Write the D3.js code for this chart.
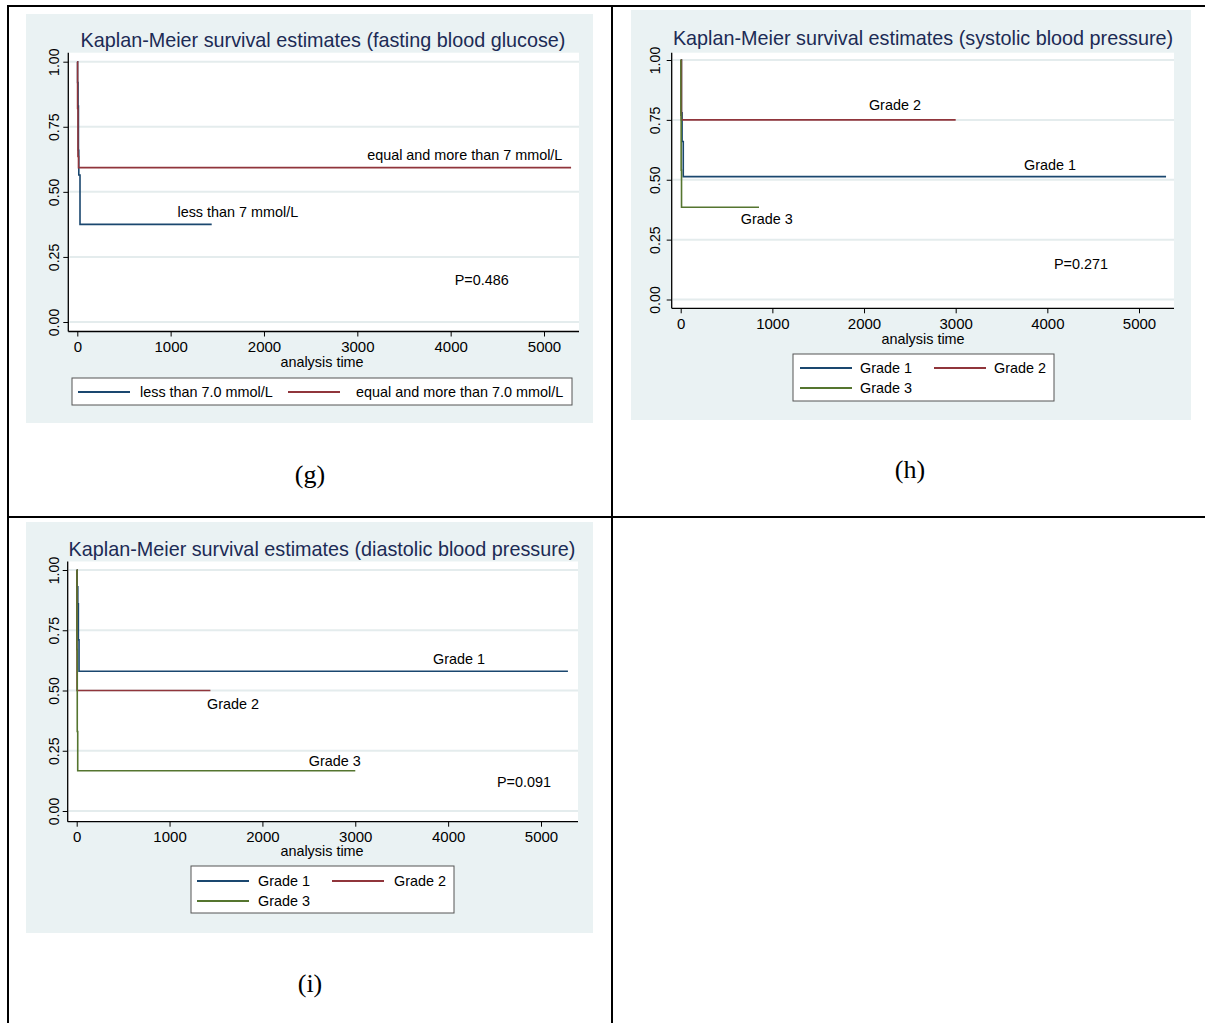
<!DOCTYPE html>
<html>
<head>
<meta charset="utf-8">
<script src="https://cdn.jsdelivr.net/npm/d3@7"></script>
<style>
  html, body { margin: 0; padding: 0; background: #ffffff; }
  svg { display: block; }
</style>
</head>
<body>
<svg id="fig" width="1205" height="1023"></svg>
<script>
// ---- shared axis values ----
const timeTicks = [0, 1000, 2000, 3000, 4000, 5000];
const survTicks = [0, 0.25, 0.5, 0.75, 1];
const survTickLabels = ["0.00", "0.25", "0.50", "0.75", "1.00"];
const xAxisTitle = "analysis time";

// ---- (g) fasting blood glucose ----
const fbgTitle = "Kaplan-Meier survival estimates (fasting blood glucose)";
const fbgGroups = ["less than 7.0 mmol/L", "equal and more than 7.0 mmol/L"];
const fbgCurveNames = ["less than 7 mmol/L", "equal and more than 7 mmol/L"];
const fbgLowTime = [0, 3, 8, 12, 16, 29, 1440];
const fbgLowSurv = [1, 0.92, 0.83, 0.66, 0.565, 0.375, 0.375];
const fbgHighTime = [0, 3, 7, 13, 5290];
const fbgHighSurv = [1, 0.82, 0.636, 0.593, 0.593];
const fbgP = "P=0.486";

// ---- (h) systolic blood pressure ----
const sbpTitle = "Kaplan-Meier survival estimates (systolic blood pressure)";
const sbpGroups = ["Grade 1", "Grade 2", "Grade 3"];
const sbpG1Time = [0, 8, 15, 28, 5295];
const sbpG1Surv = [1, 0.78, 0.66, 0.513, 0.513];
const sbpG2Time = [0, 8, 3000];
const sbpG2Surv = [1, 0.75, 0.75];
const sbpG3Time = [0, 2, 5, 9, 854];
const sbpG3Surv = [1, 0.77, 0.54, 0.385, 0.385];
const sbpP = "P=0.271";

// ---- (i) diastolic blood pressure ----
const dbpTitle = "Kaplan-Meier survival estimates (diastolic blood pressure)";
const dbpGroups = ["Grade 1", "Grade 2", "Grade 3"];
const dbpG1Time = [0, 5, 12, 18, 25, 5290];
const dbpG1Surv = [1, 0.93, 0.86, 0.71, 0.58, 0.58];
const dbpG2Time = [0, 2, 4, 1440];
const dbpG2Surv = [1, 0.67, 0.5, 0.5];
const dbpG3Time = [0, 3, 6, 11, 3000];
const dbpG3Surv = [1, 0.67, 0.33, 0.167, 0.167];
const dbpP = "P=0.091";

const captions = ["(g)", "(h)", "(i)"];

// Stata s2color palette
const NAVY = "#1a476f", MAROON = "#90353b", FOREST = "#55752f";
const BG = "#eaf2f3", GRID = "#e4eced", TITLE = "#1c2b55";
const SANS = "'Liberation Sans', Arial, Helvetica, sans-serif";
const SERIF = "'Liberation Serif', 'Times New Roman', serif";
const TXT = 14.4;

const svg = d3.select("#fig");

function drawPanel(p) {
  const g = svg.append("g");
  g.append("rect").attr("x", p.bg[0]).attr("y", p.bg[1])
    .attr("width", p.bg[2] - p.bg[0]).attr("height", p.bg[3] - p.bg[1])
    .attr("fill", BG);
  const [L, T, R, B] = p.plot;
  g.append("rect").attr("x", L).attr("y", T).attr("width", R - L).attr("height", B - T)
    .attr("fill", "#ffffff");

  const x = d3.scaleLinear().domain([0, 5000]).range(p.xr);
  const y = d3.scaleLinear().domain([0, 1]).range(p.yr);

  // horizontal grid
  g.append("g").selectAll("line").data(survTicks).join("line")
    .attr("x1", L + 1).attr("x2", R)
    .attr("y1", d => y(d)).attr("y2", d => y(d))
    .attr("stroke", GRID).attr("stroke-width", 2);

  // axes
  const xAxis = d3.axisBottom(x).tickValues(timeTicks).tickSize(5).tickPadding(5)
    .tickFormat(d3.format("d"));
  const xg = g.append("g").attr("transform", `translate(0,${B})`).call(xAxis);
  xg.select(".domain").remove();
  xg.append("line").attr("x1", L).attr("x2", R).attr("y1", 0).attr("y2", 0)
    .attr("stroke", "#000").attr("stroke-width", 1.3);
  xg.selectAll(".tick line").attr("stroke", "#000");
  xg.selectAll(".tick text").attr("font-family", SANS).attr("font-size", 15)
    .attr("fill", "#000");

  const yAxis = d3.axisLeft(y).tickValues(survTicks).tickSize(5)
    .tickFormat((d, i) => survTickLabels[i]);
  const yg = g.append("g").attr("transform", `translate(${L},0)`).call(yAxis);
  yg.select(".domain").remove();
  yg.append("line").attr("x1", 0).attr("x2", 0).attr("y1", T).attr("y2", B)
    .attr("stroke", "#000").attr("stroke-width", 1.3);
  yg.selectAll(".tick line").attr("stroke", "#000");
  yg.selectAll(".tick text")
    .attr("font-family", SANS).attr("font-size", 14.2).attr("fill", "#000")
    .attr("text-anchor", "middle").attr("x", 0).attr("dy", null)
    .attr("transform", `translate(${p.yLabelX - L},0) rotate(-90)`)
    .attr("y", 0).attr("dominant-baseline", "central");

  // title + axis title
  g.append("text").attr("x", p.titleXY[0]).attr("y", p.titleXY[1])
    .attr("text-anchor", "middle").attr("font-family", SANS).attr("font-size", 19.8)
    .attr("fill", TITLE).text(p.title);
  g.append("text").attr("x", p.axisTitleXY[0]).attr("y", p.axisTitleXY[1])
    .attr("text-anchor", "middle").attr("font-family", SANS).attr("font-size", TXT)
    .attr("fill", "#000").text(xAxisTitle);

  // survival step curves
  const line = d3.line().x(d => x(d[0])).y(d => y(d[1])).curve(d3.curveStepAfter);
  p.series.forEach(s => {
    g.append("path").datum(d3.zip(s.time, s.surv)).attr("d", line)
      .attr("fill", "none").attr("stroke", s.color).attr("stroke-width", 1.6);
  });

  // in-plot labels, anchored in data space
  p.labels.forEach(l => {
    g.append("text").attr("x", x(l.t)).attr("y", y(l.s)).attr("dy", "0.35em")
      .attr("text-anchor", "middle").attr("font-family", SANS).attr("font-size", TXT)
      .attr("fill", "#000").text(l.text);
  });

  // legend
  const lg = p.legend;
  g.append("rect").attr("x", lg.box[0]).attr("y", lg.box[1])
    .attr("width", lg.box[2] - lg.box[0]).attr("height", lg.box[3] - lg.box[1])
    .attr("fill", "#fff").attr("stroke", "#555").attr("stroke-width", 1);
  lg.items.forEach(it => {
    g.append("line").attr("x1", it.x).attr("x2", it.x + 52).attr("y1", it.y).attr("y2", it.y)
      .attr("stroke", it.color).attr("stroke-width", 2);
    g.append("text").attr("x", it.tx).attr("y", it.y).attr("dy", "0.35em")
      .attr("font-family", SANS).attr("font-size", TXT).attr("fill", "#000").text(it.text);
  });
}

// (g)
drawPanel({
  bg: [26, 14, 593, 423],
  plot: [68.3, 52.7, 579, 331.5],
  xr: [77.3, 544], yr: [322, 61.7],
  yLabelX: 53.5,
  title: fbgTitle, titleXY: [323, 47],
  axisTitleXY: [322, 367],
  series: [
    { time: fbgLowTime, surv: fbgLowSurv, color: NAVY },
    { time: fbgHighTime, surv: fbgHighSurv, color: MAROON }
  ],
  labels: [
    { t: 4151, s: 0.642, text: fbgCurveNames[1] },
    { t: 1720, s: 0.423, text: fbgCurveNames[0] },
    { t: 4332, s: 0.162, text: fbgP }
  ],
  legend: {
    box: [72, 378, 572, 405],
    items: [
      { x: 78, tx: 140, y: 392, color: NAVY, text: fbgGroups[0] },
      { x: 288, tx: 356, y: 392, color: MAROON, text: fbgGroups[1] }
    ]
  }
});

// (h)
drawPanel({
  bg: [631, 10, 1191, 420],
  plot: [671.7, 52.7, 1174, 308.3],
  xr: [680.7, 1139], yr: [299.5, 60],
  yLabelX: 655,
  title: sbpTitle, titleXY: [923, 45],
  axisTitleXY: [923, 344],
  series: [
    { time: sbpG1Time, surv: sbpG1Surv, color: NAVY },
    { time: sbpG2Time, surv: sbpG2Surv, color: MAROON },
    { time: sbpG3Time, surv: sbpG3Surv, color: FOREST }
  ],
  labels: [
    { t: 2337, s: 0.813, text: sbpGroups[1] },
    { t: 4030, s: 0.562, text: sbpGroups[0] },
    { t: 940, s: 0.336, text: sbpGroups[2] },
    { t: 4367, s: 0.148, text: sbpP }
  ],
  legend: {
    box: [793, 354, 1054, 401],
    items: [
      { x: 800, tx: 860, y: 368, color: NAVY, text: sbpGroups[0] },
      { x: 934, tx: 994, y: 368, color: MAROON, text: sbpGroups[1] },
      { x: 800, tx: 860, y: 388, color: FOREST, text: sbpGroups[2] }
    ]
  }
});

// (i)
drawPanel({
  bg: [26, 522, 593, 933],
  plot: [67.7, 561.5, 578, 821.7],
  xr: [76.7, 541], yr: [811, 570],
  yLabelX: 54,
  title: dbpTitle, titleXY: [322, 556],
  axisTitleXY: [322, 856],
  series: [
    { time: dbpG1Time, surv: dbpG1Surv, color: NAVY },
    { time: dbpG2Time, surv: dbpG2Surv, color: MAROON },
    { time: dbpG3Time, surv: dbpG3Surv, color: FOREST }
  ],
  labels: [
    { t: 4117, s: 0.631, text: dbpGroups[0] },
    { t: 1684, s: 0.444, text: dbpGroups[1] },
    { t: 2780, s: 0.207, text: dbpGroups[2] },
    { t: 4816, s: 0.120, text: dbpP }
  ],
  legend: {
    box: [191, 866, 454, 913],
    items: [
      { x: 197, tx: 258, y: 881, color: NAVY, text: dbpGroups[0] },
      { x: 332, tx: 394, y: 881, color: MAROON, text: dbpGroups[1] },
      { x: 197, tx: 258, y: 901, color: FOREST, text: dbpGroups[2] }
    ]
  }
});

// table frame around the panels
const frame = svg.append("g").attr("stroke", "#000").attr("stroke-width", 2);
frame.append("line").attr("x1", 7).attr("x2", 1205).attr("y1", 6).attr("y2", 6);
frame.append("line").attr("x1", 8).attr("x2", 8).attr("y1", 5).attr("y2", 1023);
frame.append("line").attr("x1", 612).attr("x2", 612).attr("y1", 5).attr("y2", 1023);
frame.append("line").attr("x1", 7).attr("x2", 1205).attr("y1", 517).attr("y2", 517);

// panel captions
[[310, 483], [910, 478], [310, 992]].forEach((pos, i) => {
  svg.append("text").attr("x", pos[0]).attr("y", pos[1]).attr("text-anchor", "middle")
    .attr("font-family", SERIF).attr("font-size", 26).attr("fill", "#000").text(captions[i]);
});
</script>
</body>
</html>
